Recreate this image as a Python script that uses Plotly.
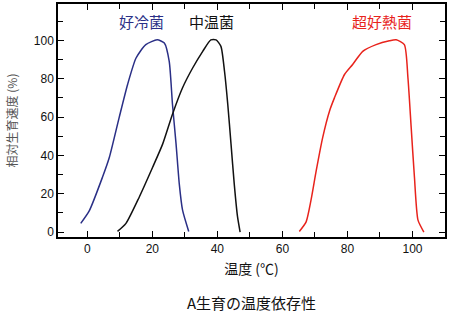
import plotly.graph_objects as go

# Psychrophile (好冷菌)
psy_t = [-2, 0.6, 4.7, 6.8, 9.8, 12.4, 15, 18, 21.5, 23.7, 25.2, 26.2, 27.3, 28.3, 29.3, 31.2]
psy_r = [4.5, 11, 28.7, 39, 59.7, 77, 90.8, 97.8, 100.3, 98.6, 89, 66.7, 46, 25, 11.4, 0.3]

# Mesophile (中温菌)
meso_t = [9.3, 11.9, 16, 20.1, 23.2, 26.2, 29.3, 32.4, 35.5, 38, 39.6, 41.1, 42.2, 43.2, 44.2, 45.2, 46.2, 47]
meso_r = [0.3, 4.5, 18.3, 33.8, 46, 61.5, 75.3, 85.6, 94.3, 100.3, 100.3, 96.9, 83.9, 66.7, 46, 25, 8, 0]

# Hyperthermophile (超好熱菌)
hyper_t = [65.2, 67.3, 68.8, 70.4, 72.4, 74.5, 76, 79.1, 81.6, 84.7, 88.8, 92.9, 95, 97.5, 98.6, 99.6, 100.6, 101.7, 103.5]
hyper_r = [0.3, 5.3, 16.6, 32, 49.4, 63.2, 70, 82.2, 87.4, 94.3, 97.8, 99.8, 100.3, 97.8, 80.5, 54.6, 28.7, 6.2, 0]

labels = ["好冷菌", "中温菌", "超好熱菌"]
label_x = [16.6, 38.2, 90.5]
label_y = [110, 110, 110]
colors = ["#2a2f86", "#111111", "#e8231c"]

x_ticks = [0, 20, 40, 60, 80, 100]
y_ticks = [0, 20, 40, 60, 80, 100]

fig = go.Figure()
for t, r, c in [(psy_t, psy_r, colors[0]), (meso_t, meso_r, colors[1]), (hyper_t, hyper_r, colors[2])]:
    fig.add_trace(go.Scatter(x=t, y=r, mode="lines",
                             line=dict(color=c, width=1.5, shape="spline", smoothing=0.6),
                             showlegend=False))

for txt, lx, ly, c in zip(labels, label_x, label_y, colors):
    fig.add_annotation(x=lx, y=ly, text=txt, showarrow=False, xref="x", yref="y",
                       font=dict(family="Noto Sans CJK JP", size=15, color=c))

fig.add_annotation(x=0.5, y=-0.335, xref="paper", yref="paper", text="A生育の温度依存性",
                   showarrow=False, font=dict(family="Noto Sans CJK JP", size=15, color="#111"))

axis_common = dict(showline=True, linecolor="black", linewidth=1.5, mirror="ticks",
                   ticks="inside", ticklen=6, tickcolor="black", tickwidth=1.2,
                   showgrid=False, zeroline=False,
                   tickfont=dict(family="Liberation Sans", size=12, color="#111"))

fig.update_xaxes(range=[-9, 110], tickvals=x_ticks,
                 minor=dict(ticks="inside", dtick=10, tick0=0, ticklen=5, tickcolor="black", showgrid=False),
                 title=dict(text="温度 (℃)", font=dict(family="Noto Sans CJK JP", size=14, color="#111"), standoff=9),
                 **axis_common)
fig.update_yaxes(range=[-2.6, 119], tickvals=y_ticks,
                 minor=dict(ticks="inside", dtick=10, tick0=0, ticklen=5, tickcolor="black", showgrid=False),
                 title=dict(text="相対生育速度 (%)", font=dict(family="Noto Sans CJK JP", size=12, color="#555"), standoff=14),
                 **axis_common)

fig.update_layout(width=450, height=317, margin=dict(l=58, r=5, t=2, b=80),
                  plot_bgcolor="white", paper_bgcolor="white")

fig.write_html("out.html")
